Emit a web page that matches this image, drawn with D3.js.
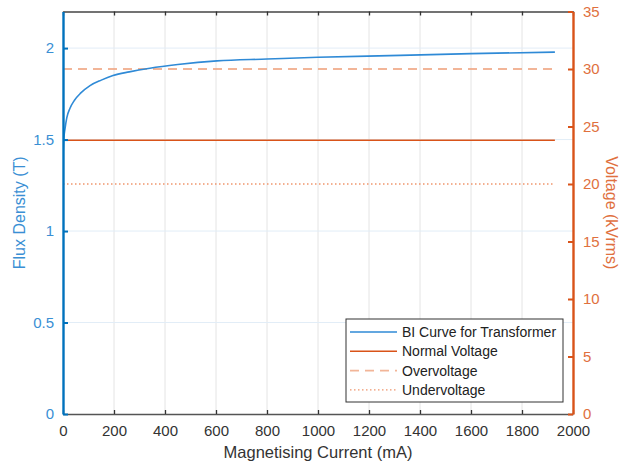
<!DOCTYPE html>
<html>
<head>
<meta charset="utf-8">
<script src="https://cdn.jsdelivr.net/npm/d3@7"></script>
<style>
  body { margin: 0; background: #fff; }
  text { font-family: "Liberation Sans", Arial, sans-serif; }
</style>
</head>
<body>
<svg id="chart" width="623" height="466"></svg>
<script>
// BI curve
const current = [0, 3, 8, 15, 27, 45, 70, 106, 150, 196, 260, 341, 450, 604, 800, 1000, 1322, 1600, 1929];
const flux = [1.40, 1.50, 1.56, 1.62, 1.67, 1.715, 1.755, 1.795, 1.825, 1.85, 1.87, 1.89, 1.91, 1.93, 1.94, 1.95, 1.96, 1.97, 1.978];

// voltage levels (right axis)
const levelNames = ["Normal Voltage", "Overvoltage", "Undervoltage"];
const levelValues = [23.8, 30, 20];
const levelEnd = 1929;

const xTicks = [0, 200, 400, 600, 800, 1000, 1200, 1400, 1600, 1800, 2000];
const leftTicks = [0, 0.5, 1, 1.5, 2];
const rightTicks = [0, 5, 10, 15, 20, 25, 30, 35];

const blue = "#0072BD", orange = "#D95319";
const pLeft = 63, pRight = 573, pTop = 11.5, pBottom = 414;

const svg = d3.select("#chart");

const x = d3.scaleLinear().domain([0, 2000]).range([pLeft, pRight]);
const yL = d3.scaleLinear().domain([0, 2.2]).range([pBottom, pTop]);
const yR = d3.scaleLinear().domain([0, 35]).range([pBottom, pTop]);

// grid
svg.append("g").selectAll("line")
  .data(xTicks.slice(1, -1))
  .join("line")
  .attr("x1", d => x(d)).attr("x2", d => x(d))
  .attr("y1", pTop).attr("y2", pBottom)
  .attr("stroke", "#e4e4e4").attr("stroke-width", 1);
svg.append("g").selectAll("line")
  .data(leftTicks.slice(1))
  .join("line")
  .attr("x1", pLeft).attr("x2", pRight)
  .attr("y1", d => yL(d)).attr("y2", d => yL(d))
  .attr("stroke", "#e2edf7").attr("stroke-width", 1);

svg.append("defs").append("clipPath").attr("id", "clip")
  .append("rect").attr("x", pLeft).attr("y", pTop).attr("width", pRight - pLeft).attr("height", pBottom - pTop);

const plot = svg.append("g").attr("clip-path", "url(#clip)");

// voltage lines
const styles = [
  { color: orange, dash: null, width: 1.4, opacity: 1 },
  { color: "#F0A987", dash: "9,6", width: 1.8, opacity: 0.85 },
  { color: "#EE8A5E", dash: "1.5,2.5", width: 1.3, opacity: 0.9 }
];
levelValues.forEach((v, i) => {
  plot.append("line")
    .attr("x1", x(0)).attr("x2", x(levelEnd))
    .attr("y1", yR(v)).attr("y2", yR(v))
    .attr("stroke", styles[i].color)
    .attr("stroke-width", styles[i].width)
    .attr("stroke-dasharray", styles[i].dash)
    .attr("opacity", styles[i].opacity);
});

// BI curve
const pts = current.map((c, i) => [c, flux[i]]);
plot.append("path")
  .datum(pts)
  .attr("fill", "none")
  .attr("stroke", "#2F8AD6")
  .attr("stroke-width", 1.6)
  .attr("d", d3.line().x(d => x(d[0])).y(d => yL(d[1])).curve(d3.curveMonotoneX));

// axes
const xAxis = svg.append("g").attr("transform", `translate(0,${pBottom})`)
  .call(d3.axisBottom(x).tickValues(xTicks).tickFormat(d3.format("d")).tickSizeInner(-4).tickSizeOuter(0).tickPadding(11));
xAxis.select(".domain").attr("stroke", "#555").attr("stroke-width", 1.3);
xAxis.selectAll(".tick line").attr("stroke", "#333").attr("stroke-width", 1.3);
xAxis.selectAll(".tick text").attr("fill", "#333").attr("font-size", 15);

const xTop = svg.append("g").attr("transform", `translate(0,${pTop})`)
  .call(d3.axisTop(x).tickValues(xTicks).tickSizeInner(-4).tickSizeOuter(0).tickFormat(""));
xTop.select(".domain").attr("stroke", "#444").attr("stroke-width", 1.3);
xTop.selectAll(".tick line").attr("stroke", "#333").attr("stroke-width", 1.3);

const yAxisL = svg.append("g").attr("transform", `translate(${pLeft},0)`)
  .call(d3.axisLeft(yL).tickValues(leftTicks).tickFormat(d3.format("~g")).tickSizeInner(-5).tickSizeOuter(0).tickPadding(9));
yAxisL.select(".domain").attr("stroke", blue).attr("stroke-width", 2.4);
yAxisL.selectAll(".tick line").attr("stroke", blue).attr("stroke-width", 2);
yAxisL.selectAll(".tick text").attr("fill", "#3A8FD4").attr("font-size", 15);

const yAxisR = svg.append("g").attr("transform", `translate(${pRight},0)`)
  .call(d3.axisRight(yR).tickValues(rightTicks).tickFormat(d3.format("d")).tickSizeInner(-5).tickSizeOuter(0).tickPadding(10));
yAxisR.select(".domain").attr("stroke", orange).attr("stroke-width", 2.4);
yAxisR.selectAll(".tick line").attr("stroke", orange).attr("stroke-width", 2);
yAxisR.selectAll(".tick text").attr("fill", "#E0703E").attr("font-size", 15);

// axis titles
svg.append("text")
  .attr("x", (pLeft + pRight) / 2).attr("y", 458)
  .attr("text-anchor", "middle").attr("font-size", 16.5).attr("fill", "#333")
  .text("Magnetising Current (mA)");
svg.append("text")
  .attr("transform", `translate(25,${(pTop + pBottom) / 2}) rotate(-90)`)
  .attr("text-anchor", "middle").attr("font-size", 16).attr("fill", "#3A8FD4")
  .text("Flux Density (T)");
svg.append("text")
  .attr("transform", `translate(606,${(pTop + pBottom) / 2}) rotate(90)`)
  .attr("text-anchor", "middle").attr("font-size", 16).attr("fill", "#E0703E")
  .text("Voltage (kVrms)");

// legend
const legend = svg.append("g").attr("transform", "translate(346,319)");
legend.append("rect").attr("width", 217).attr("height", 83)
  .attr("fill", "#fff").attr("stroke", "#333").attr("stroke-width", 1);
const legendItems = [
  { name: "BI Curve for Transformer", color: "#2F8AD6", dash: null, width: 1.3, opacity: 1 },
  ...levelNames.map((n, i) => ({ name: n, color: styles[i].color, dash: styles[i].dash, width: styles[i].width, opacity: styles[i].opacity }))
];
legendItems.forEach((d, i) => {
  const yy = 13 + i * 19.3;
  legend.append("line")
    .attr("x1", 4).attr("x2", 51).attr("y1", yy).attr("y2", yy)
    .attr("stroke", d.color).attr("stroke-width", d.width)
    .attr("stroke-dasharray", d.dash).attr("opacity", d.opacity);
  legend.append("text")
    .attr("x", 56).attr("y", yy + 5)
    .attr("font-size", 14).attr("fill", "#222")
    .text(d.name);
});
</script>
</body>
</html>
